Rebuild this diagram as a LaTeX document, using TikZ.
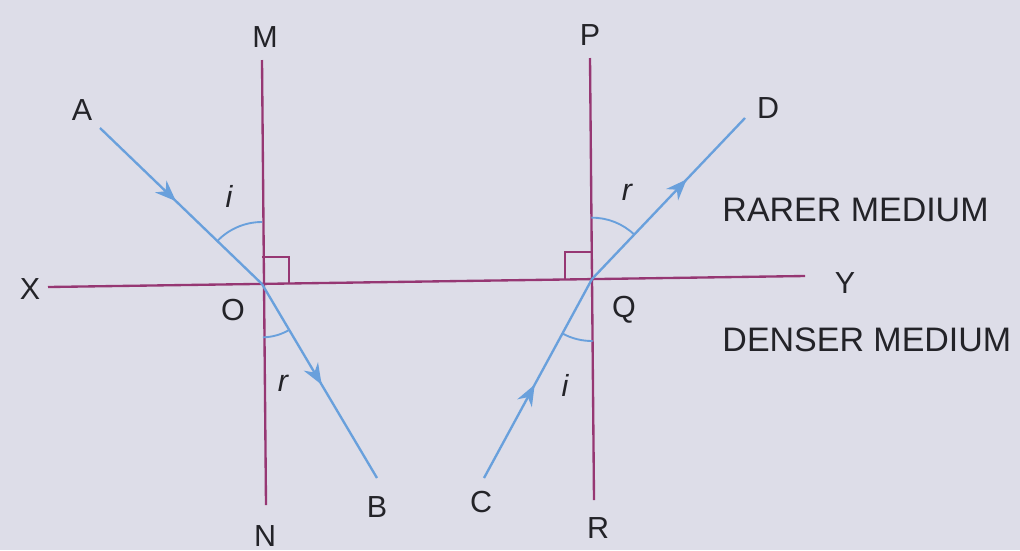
\documentclass[tikz,border=0pt]{standalone}
\usepackage{fontspec}
\setmainfont{Liberation Sans}
\usetikzlibrary{calc,angles,arrows.meta,decorations.markings}
\definecolor{bgcol}{RGB}{221,221,232}
\definecolor{normcol}{RGB}{150,55,115}
\definecolor{raycol}{RGB}{105,160,220}
\definecolor{txtcol}{RGB}{35,35,40}

\begin{document}
\begin{tikzpicture}[x=0.015cm,y=-0.015cm,
  normline/.style={normcol,line width=1pt},
  rayline/.style={raycol,line width=1pt},
  midarrow/.style={postaction={decorate},decoration={markings,
    mark=at position #1 with {\arrow{Stealth[length=9pt,width=7pt]}}}},
  lab/.style={font=\fontsize{13}{15}\selectfont,text=txtcol,inner sep=0pt},
  anglab/.style={font=\fontsize{13}{15}\selectfont\itshape,text=txtcol,inner sep=0pt}]
  \fill[bgcol] (0,0) rectangle (1020,550);
  \useasboundingbox (0,0) rectangle (1020,550);
  % points
  \coordinate (O) at (262,284);
  \coordinate (Q) at (592,279);
  \coordinate (X) at (48,287);
  \coordinate (Y) at (805,276);
  \coordinate (M) at (262,60);
  \coordinate (N) at (266,505);
  \coordinate (P) at (590,58);
  \coordinate (R) at (594,500);
  \coordinate (A) at (100,128);
  \coordinate (B) at (377,478);
  \coordinate (C) at (484,478);
  \coordinate (D) at (745,118);
  % surface and normals
  \draw[normline] (X) -- (Y);
  \draw[normline] (M) -- (N);
  \draw[normline] (P) -- (R);
  \draw[normcol,line width=.8pt] ($(O)+(27,0)$) -- ++(0,-27) -- ++(-27,0);
  \draw[normcol,line width=.8pt] ($(Q)+(-27,0)$) -- ++(0,-27) -- ++(27,0);
  % rays
  \draw[rayline,midarrow=0.47] (A) -- (O);
  \draw[rayline,midarrow=0.52] (O) -- (B);
  \draw[rayline,midarrow=0.47] (C) -- (Q);
  \draw[rayline,midarrow=0.62] (Q) -- (D);
  % angles
  \pic[draw=raycol,line width=.8pt,angle radius=0.93cm] {angle=M--O--A};
  \pic[draw=raycol,line width=.8pt,angle radius=0.8cm] {angle=N--O--B};
  \pic[draw=raycol,line width=.8pt,angle radius=0.92cm] {angle=D--Q--P};
  \pic[draw=raycol,line width=.8pt,angle radius=0.93cm] {angle=C--Q--R};
  % labels
  \node[lab] (labM) at (265,37) {M};
  \node[lab] (labN) at (265,536) {N};
  \node[lab] (labP) at (590,35) {P};
  \node[lab] (labR) at (598,528) {R};
  \node[lab] (labX) at (30,289) {X};
  \node[lab] (labY) at (845,283) {Y};
  \node[lab] (labO) at (233,310) {O};
  \node[lab] (labQ) at (624,310) {Q};
  \node[lab] (labA) at (82,110) {A};
  \node[lab] (labB) at (377,507) {B};
  \node[lab] (labC) at (481,502) {C};
  \node[lab] (labD) at (768,108) {D};
  \node[anglab] (angiO) at (229,196) {i};
  \node[anglab] (angrQ) at (627,192) {r};
  \node[anglab] (angrO) at (283,383) {r};
  \node[anglab] (angiQ) at (565,385) {i};
  \node[lab,anchor=west,font=\fontsize{14.5}{16}\selectfont] (rarer) at (722,210) {RARER MEDIUM};
  \node[lab,anchor=west,font=\fontsize{14.5}{16}\selectfont] (denser) at (722,340) {DENSER MEDIUM};
\end{tikzpicture}
\end{document}
